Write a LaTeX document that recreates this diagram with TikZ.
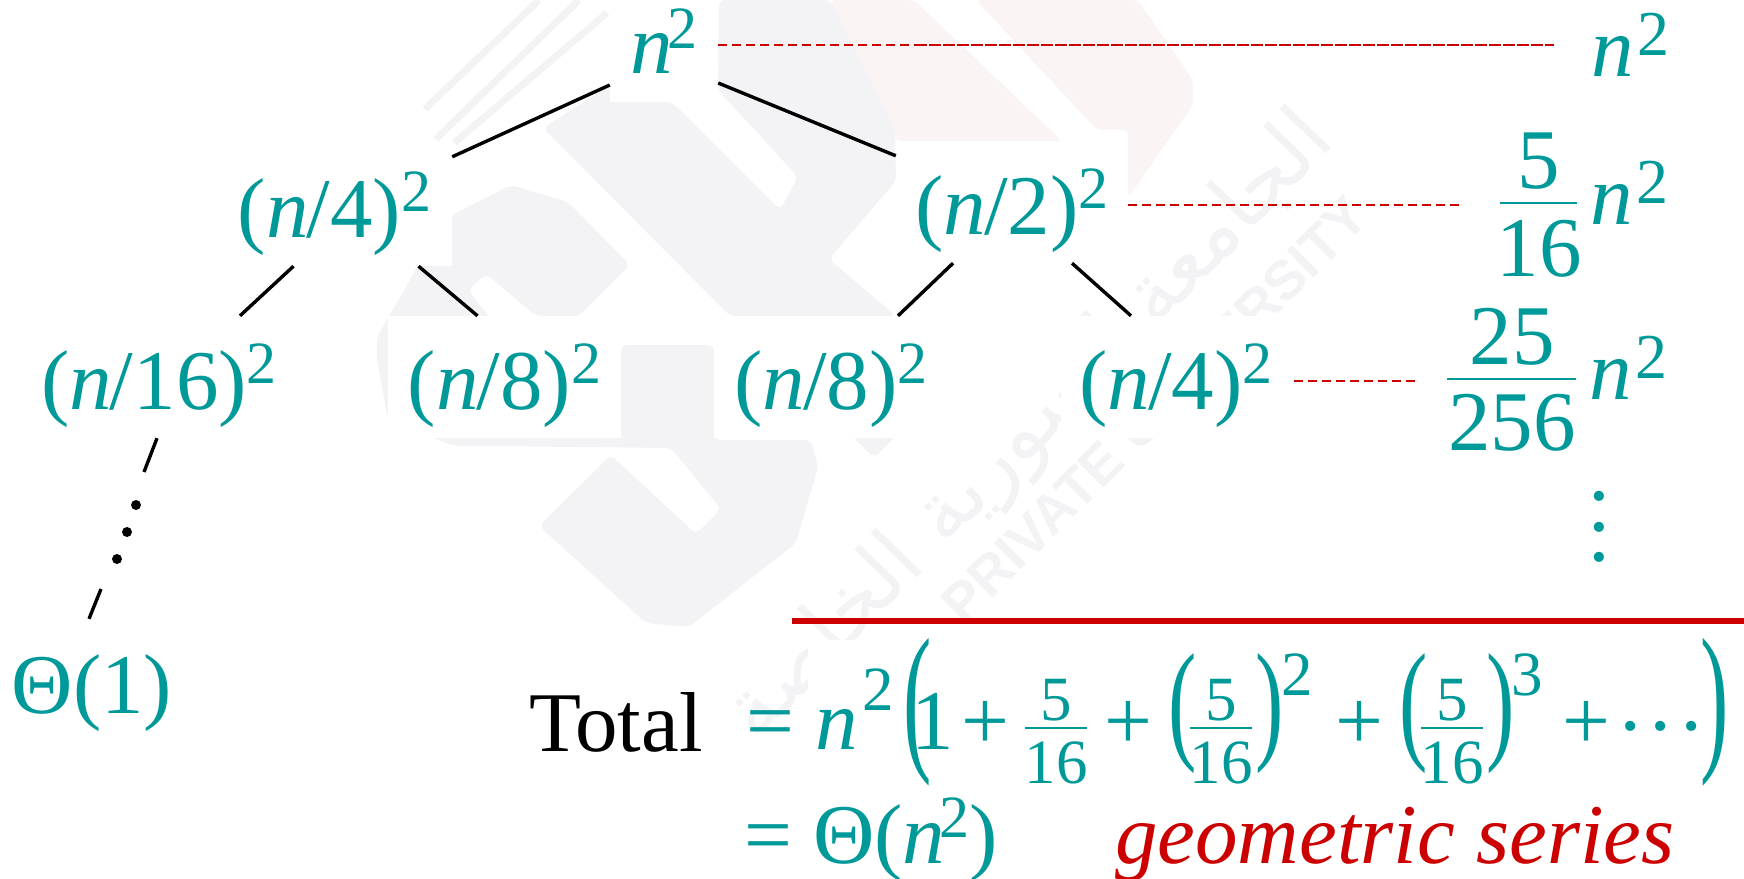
\documentclass[tikz,border=0pt]{standalone}
\usepackage{fontspec}
\setmainfont{Liberation Serif}
\newfontfamily\marklatin{Liberation Sans}
\newfontfamily\markarabic[Script=Arabic]{DejaVu Sans}
\TeXXeTstate=1
\usepackage{graphicx}
\usepackage{tikz}
\usetikzlibrary{positioning, arrows.meta}
\usepackage{xcolor}
\definecolor{termteal}{RGB}{0,153,153}
\definecolor{sumred}{RGB}{204,0,0}
\definecolor{markgray}{RGB}{243,243,246}
\definecolor{markpink}{RGB}{251,244,244}

\newcommand{\nv}{\textit{n}}
\newcommand{\sq}[1][26pt]{\raisebox{#1}{\fontsize{60}{60}\selectfont 2}}
\newcommand{\bigsq}{\raisebox{21pt}{\fontsize{64}{64}\selectfont 2}}

\begin{document}
\begin{tikzpicture}[
    x=1pt, y=-1pt,
    level/.style={font=\fontsize{85}{85}\selectfont, text=termteal, fill=white, inner sep=0pt, text height=80pt, text depth=16pt, minimum height=122pt, align=center},
    term/.style={font=\fontsize{85}{85}\selectfont, text=termteal, inner sep=0pt, anchor=base},
    small/.style={font=\fontsize{63}{63}\selectfont, text=termteal, inner sep=0pt, anchor=base},
    edge/.style={line width=3.4pt, draw=black},
    guide/.style={line width=1.8pt, draw=sumred, dash pattern=on 9pt off 5pt},
    guidedense/.style={line width=1.8pt, draw=sumred, dash pattern=on 12pt off 2pt},
    fracbar/.style={line width=2pt, draw=termteal},
    logopart/.style={fill=markgray, draw=none, rounded corners=6pt},
    logoline/.style={line width=7pt, draw=markgray}
]
\useasboundingbox (0,0) rectangle (1744,878);

% Faint logo behind the tree
\path [logopart, fill=markpink] (830,0) -- (914,0) -- (1062,141) -- (896,141) -- cycle;
\path [logopart, fill=markpink] (976,0) -- (1138,0) -- (1193,80) -- (1193,105) -- (1128,198) -- (1128,130) -- (1097,130) -- cycle;
\path [logopart] (543,128) -- (610,85) -- (673,103) -- (780,210) -- (798,177) -- (718,90) -- (719,0) -- (830,0) -- (895,130) -- (896,181) -- (829,259) -- (896,316) -- (730,316) -- cycle;
\path [logopart] (418,266) -- (452,215) -- (511,185) -- (568,202) -- (630,265) -- (579,316) -- (536,316) -- (486,274) -- (468,290) -- (500,330) -- (500,446) -- (454,446) -- (388,420) -- (377,360) -- (377,337) -- cycle;
\path [logopart] (621,345) -- (714,345) -- (714,440) -- (811,440) -- (818,467) -- (796,543) -- (689,627) -- (646,623) -- (539,526) -- (611,455) -- (696,534) -- (721,509) -- (671,448) -- (480,446) -- (480,430) -- (621,430) -- cycle;
\path [logopart] (852,436) -- (896,436) -- (874,458) -- cycle;
\draw [logoline] (539,0) -- (425,109);
\draw [logoline] (579,0) -- (436,139);
\draw [logoline] (607,13) -- (454,143);
\node (marken) [rotate=45, text=markgray, inner sep=0pt, font=\marklatin\bfseries\fontsize{55}{55}\selectfont] at (1155,410) {PRIVATE UNIVERSITY};
\node (markar) [rotate=46, text=markgray, inner sep=0pt, font=\markarabic\fontsize{84}{84}\selectfont] at (1031,428) {\beginR الجامعة السورية الخاصة\endR};
\fill [white] (808,640) rectangle (1744,878);

% Tree levels
\node (root) [level, minimum width=108pt] at (664,41) {\nv\kern-6pt\sq[25pt]};
\node (lefta) [level, minimum width=235pt] at (334.5,205) {(\nv\kern-2pt/4)\sq};
\node (righta) [level, minimum width=232pt] at (1012,202) {(\nv\kern-2pt/2)\sq};
\node (leafa) [level, minimum width=282pt] at (159,377) {(\nv\kern-2pt/16)\sq};
\node (leafb) [level, minimum width=233pt] at (504.5,377) {(\nv\kern-2pt/8)\sq};
\node (leafc) [level, minimum width=234pt] at (831,377) {(\nv\kern-2pt/8)\sq};
\node (leafd) [level, minimum width=230pt] at (1176,377) {(\nv\kern-2pt/4)\sq};
\node (basecase) [term] at (92,713) {Θ(1)};

% Tree edges
\draw [edge] ([yshift=-44pt]root.west) -- ([yshift=-13pt]lefta.north east);
\draw [edge] ([yshift=-42pt]root.east) -- ([yshift=-15pt]righta.north west);
\draw [edge] ([xshift=-41pt]lefta.south) -- ([xshift=81pt]leafa.north);
\draw [edge] ([xshift=84pt]lefta.south) -- ([xshift=-27pt]leafb.north);
\draw [edge] ([xshift=-59pt]righta.south) -- ([xshift=67pt]leafc.north);
\draw [edge] ([xshift=60pt]righta.south) -- ([xshift=-45pt]leafd.north);

% Dotted path to the base case
\coordinate (dotsa) at (144,472);
\coordinate (dotsb) at (101,589);
\draw [edge] ([xshift=-2pt]leafa.south) -- (dotsa);
\draw [edge] (dotsb) -- ([xshift=-3pt,yshift=35pt]basecase.north);
\fill (136,505) circle (5pt) (127,532) circle (5pt) (117,559) circle (5pt);

% Level sums
\node (suma) [term, anchor=base west] at (1591,76) {\nv\kern4pt\bigsq};
\node (numb) [term] at (1539,188) {5};
\node (denb) [term] at (1539,276) {16};
\node (sumb) [term, anchor=base west] at (1590,224) {\nv\kern4pt\bigsq};
\draw [fracbar] ([xshift=-39pt,yshift=17pt]denb.north) -- ([xshift=38pt,yshift=17pt]denb.north);
\node (numc) [term] at (1512,364) {25};
\node (denc) [term] at (1512,450) {256};
\node (sumc) [term, anchor=base west] at (1589,399) {\nv\kern4pt\bigsq};
\draw [fracbar] ([xshift=-65pt,yshift=15pt]denc.north) -- ([xshift=64pt,yshift=15pt]denc.north);
\node (vdotsum) [term, anchor=center, rotate=90] at (1611,527) {·\kern2pt·\kern2pt·};

\coordinate (guidemid) at (915,44.7);
\draw [guide] (root.east |- guidemid) -- (guidemid);
\draw [guidedense] (guidemid) -- (1554,44.7);
\draw [guide] (righta.east |- 0,204.7) -- (1464,204.7);
\draw [guide] ([xshift=3pt]leafd.east |- 0,380.7) -- (1415,380.7);

% Total
\draw [line width=6pt, draw=sumred] (792,621) -- (1744,621);
\node (total) [term, anchor=base west, text=black] at (529,751) {Total};
\node (eqa) [term] at (770,749) {=};
\node (totaln) [term, anchor=base west] at (815,749) {\nv};
\node (totalsq) [small, anchor=base west] at (862,710) {2};
\node (lparen) [term] at (918,751) {\scalebox{1}[1.92]{(}};
\node (one) [term] at (933,749) {1};
\node (plusa) [term] at (985,749) {+};
\node (pluso) [term] at (1128,749) {+};
\node (plusb) [term] at (1359,749) {+};
\node (plusc) [term] at (1586,749) {+};
\node (cdotsum) [term] at (1661,754) {·\kern2pt·\kern2pt·};
\node (rparen) [term] at (1715,751) {\scalebox{1}[1.92]{)}};

% Small fractions
\foreach \name/\xpos in {fraca/1056,fracb/1221,fracc/1452} {
    \node (\name num) [small] at (\xpos,720) {5};
    \node (\name den) [small] at (\xpos,783) {16};
    \draw [fracbar] ([xshift=-31pt,yshift=13pt]\name den.north) -- ([xshift=31pt,yshift=13pt]\name den.north);
}
\node (lpb) [term] at (1183,745) {\scalebox{1}[1.56]{(}};
\node (rpb) [term] at (1270,745) {\scalebox{1}[1.56]{)}};
\node (supb) [small, anchor=base west] at (1281,695) {2};
\node (lpc) [term] at (1414,745) {\scalebox{1}[1.56]{(}};
\node (rpc) [term] at (1501,745) {\scalebox{1}[1.56]{)}};
\node (supc) [small, anchor=base west] at (1511,695) {3};

% Second line
\node (eqb) [term] at (768,863) {=};
\node (closed) [term, anchor=base west] at (813,863) {Θ(\nv\kern-6pt\raisebox{26pt}{\fontsize{60}{60}\selectfont 2})};
\node (geom) [term, anchor=base west, text=sumred] at (1115,863) {\textit{geometric series}};

\end{tikzpicture}
\end{document}
